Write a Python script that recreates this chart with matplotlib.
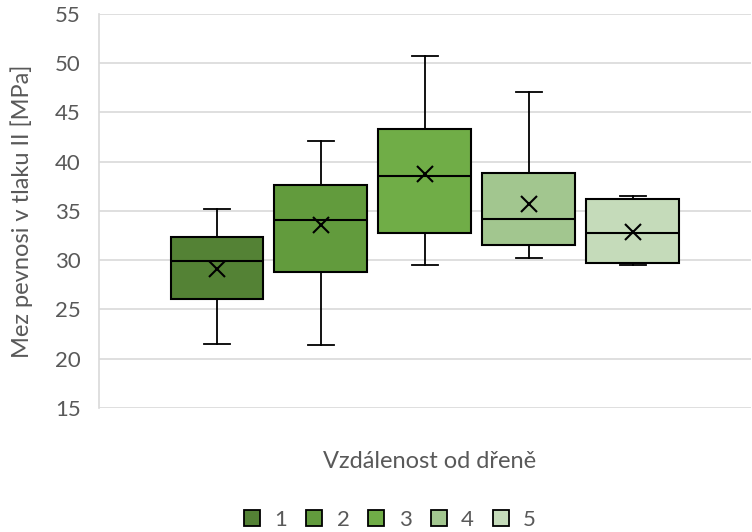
import matplotlib
matplotlib.use("Agg")
import matplotlib.pyplot as plt
from matplotlib.patches import Patch

plt.rcParams['font.family'] = ['Lato', 'DejaVu Sans']

series = ["1", "2", "3", "4", "5"]
whislo = [21.5, 21.4, 29.5, 30.2, 29.5]
q1 = [26.1, 28.8, 32.8, 31.5, 29.7]
med = [29.9, 34.1, 38.5, 34.2, 32.8]
q3 = [32.4, 37.6, 43.3, 38.9, 36.2]
whishi = [35.2, 42.1, 50.7, 47.1, 36.5]
means = [29.1, 33.6, 38.7, 35.7, 32.9]
colors = ["#548235", "#629B3D", "#70AD47", "#A2C68F", "#C5DBBA"]
yticks = [15, 20, 25, 30, 35, 40, 45, 50, 55]

fig = plt.figure(figsize=(7.52, 5.32), dpi=100)
ax = fig.add_axes([0.1316, 0.233, 0.867, 0.741])

stats = []
for i in range(len(series)):
    stats.append(dict(label=series[i], whislo=whislo[i], q1=q1[i], med=med[i],
                      q3=q3[i], whishi=whishi[i], mean=means[i], fliers=[]))

positions = list(range(1, len(series) + 1))
bp = ax.bxp(stats, positions=positions, widths=0.894, patch_artist=True,
            showmeans=True, showfliers=False, capwidths=0.25,
            boxprops=dict(edgecolor="black", linewidth=1.5),
            medianprops=dict(color="black", linewidth=1.5),
            whiskerprops=dict(color="black", linewidth=1.3),
            capprops=dict(color="black", linewidth=1.3),
            meanprops=dict(marker="x", markeredgecolor="black", markersize=12,
                           markeredgewidth=1.5))
for patch, c in zip(bp['boxes'], colors):
    patch.set_facecolor(c)
for z in bp['boxes']:
    z.set_zorder(3)
for k in ['medians', 'whiskers', 'caps', 'means']:
    for l in bp[k]:
        l.set_zorder(4)

ax.set_xlim(-0.135, 6.135)
ax.set_ylim(15, 55)
ax.set_yticks(yticks)
ax.set_xticks([])
ax.yaxis.grid(True, color="#d9d9d9", linewidth=1.2)
ax.set_axisbelow(True)
for s in ['top', 'right', 'bottom']:
    ax.spines[s].set_visible(False)
ax.spines['left'].set_color("#d9d9d9")
ax.spines['left'].set_linewidth(1.2)
ax.tick_params(axis='y', length=0, labelsize=16, labelcolor="#595959", pad=13)
ax.set_ylabel("Mez pevnosi v tlaku II [MPa]", fontsize=17, color="#595959")
ax.yaxis.set_label_coords(-0.101, 0.5)

fig.text(430 / 752, 1 - 462 / 532, "Vzdálenost od dřeně", fontsize=17, color="#595959",
         ha="center", va="center")

handles = [Patch(facecolor=c, edgecolor="black", linewidth=1.3) for c in colors]
leg = fig.legend(handles, series, loc="center", bbox_to_anchor=(390 / 752, 1 - 520 / 532),
                 ncol=5, frameon=False, fontsize=16, handlelength=0.72, handleheight=0.72,
                 handletextpad=0.65, columnspacing=0.85, borderaxespad=0, borderpad=0)
for t in leg.get_texts():
    t.set_color("#595959")

fig.savefig("out.png", dpi=100)
